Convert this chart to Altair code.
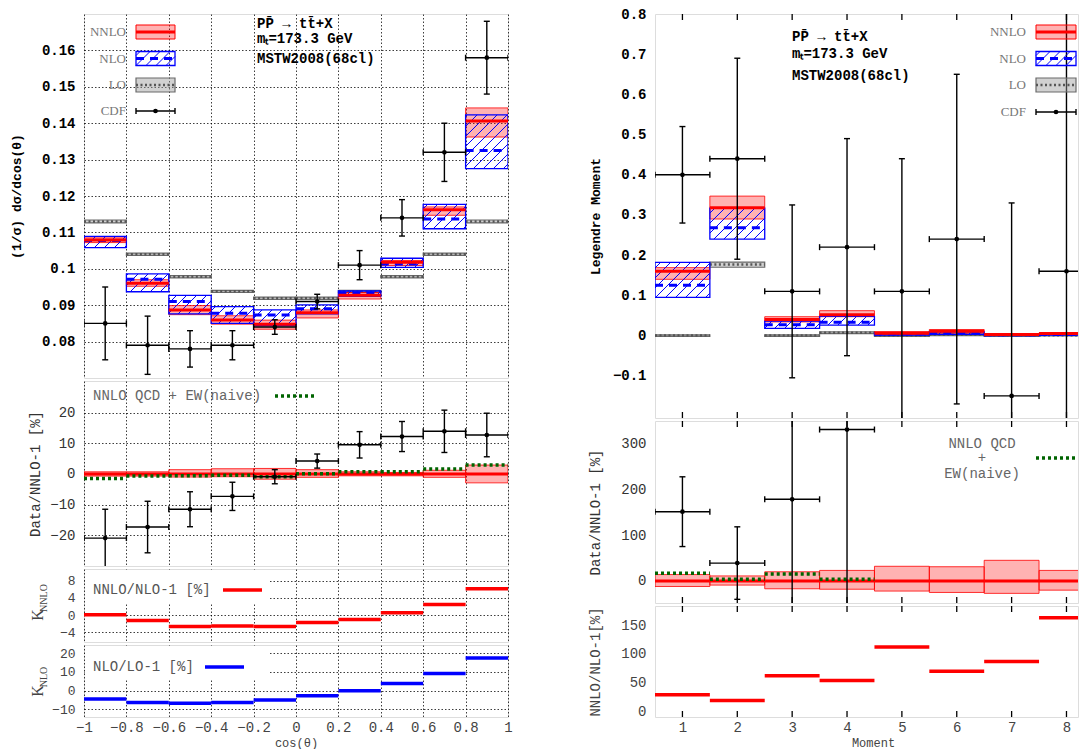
import math
import altair as alt
import pandas as pd

# ---------------- left: cos(theta) distribution ----------------
cos_edges = [-1.0, -0.8, -0.6, -0.4, -0.2, 0.0, 0.2, 0.4, 0.6, 0.8, 1.0]
cdf_val = [0.085, 0.079, 0.078, 0.079, 0.084, 0.091, 0.101, 0.114, 0.132, 0.158]
cdf_err = [0.010, 0.008, 0.005, 0.004, 0.002, 0.002, 0.004, 0.005, 0.008, 0.010]
lo_val = [0.1130, 0.1040, 0.0978, 0.0938, 0.0919, 0.0919, 0.0938, 0.0978, 0.1040, 0.1130]
lo_up = [0.1134, 0.1043, 0.0981, 0.0941, 0.0922, 0.0922, 0.0941, 0.0981, 0.1043, 0.1134]
lo_dn = [0.1126, 0.1037, 0.0975, 0.0935, 0.0916, 0.0916, 0.0935, 0.0975, 0.1037, 0.1126]
nlo_val = [0.1078, 0.0971, 0.0910, 0.0878, 0.0873, 0.0890, 0.0934, 0.1013, 0.1137, 0.1325]
nlo_up = [0.1089, 0.0986, 0.0927, 0.0896, 0.0887, 0.0901, 0.0939, 0.1029, 0.1177, 0.1423]
nlo_dn = [0.1058, 0.0937, 0.0876, 0.0850, 0.0844, 0.0876, 0.0924, 0.1004, 0.1110, 0.1275]
nnlo_val = [0.1079, 0.0960, 0.0887, 0.0859, 0.0848, 0.0879, 0.0927, 0.1018, 0.1162, 0.1406]
nnlo_up = [0.1085, 0.0970, 0.0899, 0.0871, 0.0859, 0.0887, 0.0935, 0.1023, 0.1170, 0.1442]
nnlo_dn = [0.1072, 0.0952, 0.0874, 0.0848, 0.0834, 0.0865, 0.0917, 0.1009, 0.1147, 0.1362]
ratio_val = [-20.9, -17.3, -11.5, -7.3, -0.9, 4.2, 9.5, 12.2, 13.9, 12.7]
ratio_err = [9.4, 8.4, 5.7, 4.6, 2.3, 2.3, 4.3, 4.9, 6.9, 7.1]
ratio_band_up = [0.7, 0.7, 1.4, 1.7, 1.8, 1.4, 0.7, 0.5, 1.2, 2.9]
ratio_band_dn = [0.7, 0.7, 1.0, 0.9, 1.7, 1.1, 0.6, 0.6, 1.1, 2.9]
ew_val = [-1.5, -0.7, -0.6, -0.4, -0.9, 0.1, 0.7, 0.7, 1.6, 2.9]
k_nnlo = [0.1, -1.2, -2.6, -2.5, -2.6, -1.7, -1.0, 0.6, 2.5, 6.1]
k_nlo = [-4.5, -6.4, -6.8, -6.3, -5.0, -2.7, 0.0, 3.8, 9.1, 17.5]

# ---------------- right: Legendre moments ----------------
moments = [1, 2, 3, 4, 5, 6, 7, 8]
mom_cdf = [0.40, 0.44, 0.11, 0.22, 0.11, 0.24, -0.15, 0.16]
mom_cdf_err = [0.12, 0.25, 0.215, 0.27, 0.33, 0.41, 0.48, 0.70]
mom_lo = [0.0, 0.177, 0.0, 0.007, 0.0, 0.002, 0.0, 0.001]
mom_lo_up = [0.002, 0.183, 0.002, 0.009, 0.002, 0.004, 0.002, 0.003]
mom_lo_dn = [-0.002, 0.170, -0.002, 0.005, -0.002, 0.000, -0.002, -0.001]
mom_nlo = [0.125, 0.268, 0.027, 0.033, 0.004, 0.006, 0.002, 0.003]
mom_nlo_up = [0.182, 0.317, 0.036, 0.048, 0.007, 0.009, 0.004, 0.005]
mom_nlo_dn = [0.095, 0.240, 0.018, 0.026, 0.001, 0.003, 0.000, 0.001]
mom_nnlo = [0.160, 0.318, 0.040, 0.052, 0.006, 0.011, 0.003, 0.005]
mom_nnlo_up = [0.169, 0.347, 0.047, 0.062, 0.010, 0.015, 0.005, 0.007]
mom_nnlo_dn = [0.140, 0.290, 0.034, 0.047, 0.003, 0.006, 0.001, 0.003]
mom_ratio = [151, 39, 178, 330]
mom_ratio_err = [76, 79, 540, 520]
mom_band_up = [14, 11, 20, 23, 32, 31, 45, 23]
mom_band_dn = [12, 9, 17, 18, 22, 25, 27, 20]
mom_ew = [17, 4, 15, 4]
mom_k = [29, 19, 62, 53.5, 112, 70, 87, 163]

# ---------------- tables ----------------
L = pd.DataFrame({
    "lo": cos_edges[:-1], "hi": cos_edges[1:],
    "mid": [(a + b) / 2 for a, b in zip(cos_edges[:-1], cos_edges[1:])],
    "cdf": cdf_val,
    "cdf_dn": [v - e for v, e in zip(cdf_val, cdf_err)],
    "cdf_up": [v + e for v, e in zip(cdf_val, cdf_err)],
    "lo_val": lo_val, "lo_up": lo_up, "lo_dn": lo_dn,
    "nlo": nlo_val, "nlo_up": nlo_up, "nlo_dn": nlo_dn,
    "nnlo": nnlo_val, "nnlo_up": nnlo_up, "nnlo_dn": nnlo_dn,
    "r": ratio_val,
    "r_dn": [v - e for v, e in zip(ratio_val, ratio_err)],
    "r_up": [v + e for v, e in zip(ratio_val, ratio_err)],
    "b_up": ratio_band_up, "b_dn": [-v for v in ratio_band_dn],
    "zero": [0.0] * len(ratio_val),
    "ew": ew_val, "knnlo": k_nnlo, "knlo": k_nlo,
})
R = pd.DataFrame({
    "m": moments, "lo": [m - 0.5 for m in moments], "hi": [m + 0.5 for m in moments],
    "cdf": mom_cdf,
    "cdf_dn": [v - e for v, e in zip(mom_cdf, mom_cdf_err)],
    "cdf_up": [v + e for v, e in zip(mom_cdf, mom_cdf_err)],
    "lo_val": mom_lo, "lo_up": mom_lo_up, "lo_dn": mom_lo_dn,
    "nlo": mom_nlo, "nlo_up": mom_nlo_up, "nlo_dn": mom_nlo_dn,
    "nnlo": mom_nnlo, "nnlo_up": mom_nnlo_up, "nnlo_dn": mom_nnlo_dn,
    "b_up": mom_band_up, "b_dn": [-v for v in mom_band_dn],
    "zero": [0.0] * len(moments),
    "k": mom_k,
})
R4 = pd.DataFrame({
    "m": moments[:4], "lo": [m - 0.5 for m in moments[:4]], "hi": [m + 0.5 for m in moments[:4]],
    "r": mom_ratio,
    "r_dn": [v - e for v, e in zip(mom_ratio, mom_ratio_err)],
    "r_up": [v + e for v, e in zip(mom_ratio, mom_ratio_err)],
    "ew": mom_ew,
})
DUMMY = pd.DataFrame({"k": [0]})

FONT = "Liberation Mono"
SERIF = "Liberation Serif"
RED, BLUE, GREEN = "#ff0000", "#0000ff", "#006400"
GRID = dict(grid=True, gridColor="#000000", gridDash=[1.5, 2], gridWidth=0.9, gridOpacity=0.85)
NUMFMT = ".6~g"
HATCH_STEP = 10.0


def hatch_table(df, lo, hi, dn, up, xdom, ydom, w, h, step=HATCH_STEP):
    """45-degree hatch segments inside each band, derived from the band values."""
    sx = w / (xdom[1] - xdom[0])
    sy = h / (ydom[1] - ydom[0])
    rows = []
    for a, b, c, d in zip(df[lo], df[hi], df[dn], df[up]):
        u0, u1 = (a - xdom[0]) * sx, (b - xdom[0]) * sx
        v0, v1 = (c - ydom[0]) * sy, (d - ydom[0]) * sy
        for k in range(math.ceil((u0 - v1) / step), math.floor((u1 - v0) / step) + 1):
            cc = k * step
            us, ue = max(u0, v0 + cc), min(u1, v1 + cc)
            if ue - us > 0.4:
                rows.append({"hx": xdom[0] + us / sx, "hy": ydom[0] + (us - cc) / sy,
                             "hx2": xdom[0] + ue / sx, "hy2": ydom[0] + (ue - cc) / sy})
    return pd.DataFrame(rows)


def yaxis(values, title, tx, h, bold=False, grid=True, lc="#000000", tc="#000000",
          tfont=FONT, tsize=14, lsize=14):
    kw = dict(values=values, ticks=False, domain=False, format=NUMFMT,
              labelFont=FONT, labelFontSize=lsize, labelColor=lc, labelPadding=9,
              labelFontWeight="bold" if bold else "normal", labelOverlap=False, labelFlush=False)
    if title:
        kw.update(title=title, titleFont=tfont, titleFontSize=tsize, titleColor=tc,
                  titleFontWeight="bold" if bold else "normal",
                  titleX=tx, titleY=h / 2, titleAngle=-90, titleAlign="center", titleBaseline="middle")
    else:
        kw.update(title=None)
    if grid:
        kw.update(GRID)
    else:
        kw.update(grid=False)
    return alt.Axis(**kw)


def xaxis(values, grid, labels=False, title=None, tx=0):
    kw = dict(values=values, ticks=False, domain=False, labels=labels, labelOverlap=False,
              labelFlush=False)
    if grid:
        kw.update(GRID)
    else:
        kw.update(grid=False)
    if labels:
        kw.update(format=NUMFMT, labelFont=FONT, labelFontSize=14, labelColor="#444444", labelPadding=3,
                  title=title, titleFont=FONT, titleFontSize=12, titleColor="#444444",
                  titleX=tx, titleY=25, titleBaseline="middle", titleAlign="center",
                  titleFontWeight="normal")
    else:
        kw.update(title=None)
    return alt.Axis(**kw)


class Panel:
    def __init__(self, xs, xa, ys, ya):
        self.xs, self.xa, self.ys, self.ya = xs, xa, ys, ya
        self.layers = []

    def X(self, f):
        return alt.X(f, type="quantitative", scale=self.xs, axis=self.xa)

    def Y(self, f):
        return alt.Y(f, type="quantitative", scale=self.ys, axis=self.ya)

    def rect(self, df, x, x2, y, y2, **m):
        self.layers.append(alt.Chart(df).mark_rect(clip=True, **m).encode(
            x=self.X(x), x2=alt.X2(x2), y=self.Y(y), y2=alt.Y2(y2)))

    def hline(self, df, x, x2, y, **m):
        self.layers.append(alt.Chart(df).mark_rule(clip=True, **m).encode(
            x=self.X(x), x2=alt.X2(x2), y=self.Y(y)))

    def vline(self, df, x, y, y2, **m):
        self.layers.append(alt.Chart(df).mark_rule(clip=True, **m).encode(
            x=self.X(x), y=self.Y(y), y2=alt.Y2(y2)))

    def segs(self, df, **m):
        self.layers.append(alt.Chart(df).mark_rule(clip=True, **m).encode(
            x=self.X("hx"), y=self.Y("hy"), x2=alt.X2("hx2"), y2=alt.Y2("hy2")))

    def cdf(self, df, val="cdf", dn="cdf_dn", up="cdf_up", lo="lo", hi="hi", mid="mid"):
        k = dict(color="black", strokeWidth=1.4)
        self.hline(df, lo, hi, val, **k)
        self.vline(df, lo, val, val, yOffset=-3, y2Offset=3, **k)
        self.vline(df, hi, val, val, yOffset=-3, y2Offset=3, **k)
        self.vline(df, mid, dn, up, **k)
        self.hline(df, mid, mid, up, xOffset=-3, x2Offset=3, **k)
        self.hline(df, mid, mid, dn, xOffset=-3, x2Offset=3, **k)
        self.layers.append(alt.Chart(df).mark_circle(size=22, color="black", opacity=1, clip=True).encode(
            x=self.X(mid), y=self.Y(val)))

    def theory(self, df, hatch, lo="lo", hi="hi"):
        self.rect(df, lo, hi, "lo_dn", "lo_up", fill="#9a9a9a", fillOpacity=0.45, stroke="#6a6a6a", strokeWidth=1.2)
        self.hline(df, lo, hi, "lo_val", color="#555555", strokeWidth=2.5, strokeDash=[2, 2.5])
        self.rect(df, lo, hi, "nnlo_dn", "nnlo_up", fill=RED, fillOpacity=0.3, stroke=RED, strokeWidth=1, strokeOpacity=0.8)
        self.segs(hatch, color=BLUE, strokeWidth=1)
        self.rect(df, lo, hi, "nlo_dn", "nlo_up", fill=BLUE, fillOpacity=0.0, stroke=BLUE, strokeWidth=1.3)
        self.hline(df, lo, hi, "nlo", color=BLUE, strokeWidth=3, strokeDash=[8, 6])
        self.hline(df, lo, hi, "nnlo", color=RED, strokeWidth=3)

    def ptext(self, s, x, y, **m):
        self.layers.append(alt.Chart(DUMMY).mark_text(text=s, **m).encode(x=alt.value(x), y=alt.value(y)))

    def prect(self, x, x2, y, y2, **m):
        self.layers.append(alt.Chart(DUMMY).mark_rect(**m).encode(
            x=alt.value(x), x2=alt.value(x2), y=alt.value(y), y2=alt.value(y2)))

    def prule(self, x, x2, y, y2, **m):
        self.layers.append(alt.Chart(DUMMY).mark_rule(**m).encode(
            x=alt.value(x), x2=alt.value(x2), y=alt.value(y), y2=alt.value(y2)))

    def ppoint(self, x, y, **m):
        self.layers.append(alt.Chart(DUMMY).mark_circle(**m).encode(x=alt.value(x), y=alt.value(y)))

    def phatch(self, x0, x1, ytop, ybot, step=HATCH_STEP, **m):
        h = ybot - ytop
        for k in range(math.ceil(-h / step), math.floor((x1 - x0) / step) + 1):
            cc = k * step
            us, ue = max(0, cc), min(x1 - x0, h + cc)
            if ue - us > 0.4:
                self.prule(x0 + us, x0 + ue, ybot - (us - cc), ybot - (ue - cc), **m)

    def ktitle(self, sub, yk, ysub):
        k = dict(font=SERIF, color="#444444", angle=270, align="center", baseline="middle")
        self.ptext("K", -46, yk, fontSize=16, **k)
        self.ptext(sub, -40, ysub, fontSize=10, **k)

    def legend_block(self, xl, xb0, xb1, rows):
        lab = dict(font=SERIF, fontSize=13, color="#777777", align="right", baseline="middle")
        y1, y2, y3, y4 = rows
        self.ptext("NNLO", xl, y1, **lab)
        self.ptext("NLO", xl, y2, **lab)
        self.ptext("LO", xl, y3, **lab)
        self.ptext("CDF", xl, y4, **lab)
        self.prect(xb0, xb1, y1 - 7, y1 + 7, fill=RED, fillOpacity=0.3, stroke=RED, strokeWidth=1)
        self.prule(xb0, xb1, y1, y1, color=RED, strokeWidth=3)
        self.phatch(xb0, xb1, y2 - 7, y2 + 7, color=BLUE, strokeWidth=1)
        self.prect(xb0, xb1, y2 - 7, y2 + 7, fillOpacity=0, stroke=BLUE, strokeWidth=1.3)
        self.prule(xb0, xb1, y2, y2, color=BLUE, strokeWidth=3, strokeDash=[8, 6])
        self.prect(xb0, xb1, y3 - 7, y3 + 7, fill="#9a9a9a", fillOpacity=0.45, stroke="#6a6a6a", strokeWidth=1.2)
        self.prule(xb0, xb1, y3, y3, color="#555555", strokeWidth=2.5, strokeDash=[2, 2.5])
        self.prule(xb0, xb1, y4, y4, color="black", strokeWidth=1.4)
        self.prule(xb0, xb0, y4 - 3, y4 + 3, color="black", strokeWidth=1.4)
        self.prule(xb1, xb1, y4 - 3, y4 + 3, color="black", strokeWidth=1.4)
        self.ppoint((xb0 + xb1) / 2, y4, size=22, color="black", opacity=1)

    def info(self, x, ys):
        k = dict(font=FONT, fontSize=14, fontWeight="bold", color="black", align="left", baseline="middle")
        self.ptext("PP\u0304 \u2192 tt\u0304+X", x, ys[0], **k)
        self.ptext("m\u209c=173.3 GeV", x, ys[1], **k)
        self.ptext("MSTW2008(68cl)", x, ys[2], **k)

    def build(self, w, h):
        return alt.layer(*self.layers).properties(width=w, height=h)


# ---------------- left column ----------------
WL = 424
H1, H2, H3, H4 = 364, 185, 73, 72
XL_DOM = [-1, 1]
Y1_DOM = [0.07, 0.17]
xsL = alt.Scale(domain=XL_DOM, nice=False, zero=False)

p1 = Panel(xsL, xaxis(cos_edges, True),
           alt.Scale(domain=Y1_DOM, nice=False, zero=False),
           yaxis([0.08, 0.09, 0.10, 0.11, 0.12, 0.13, 0.14, 0.15, 0.16],
                 "(1/\u03c3) d\u03c3/dcos(\u03b8)", -68, H1, bold=True, tsize=13))
p1.theory(L, hatch_table(L, "lo", "hi", "nlo_dn", "nlo_up", XL_DOM, Y1_DOM, WL, H1))
p1.cdf(L)
p1.legend_block(42, 52, 91, (18, 44.5, 71, 97))
p1.info(173, (10, 25, 45))

p2 = Panel(xsL, xaxis(cos_edges, True),
           alt.Scale(domain=[-30, 30.3], nice=False, zero=False),
           yaxis([-20, -10, 0, 10, 20], "Data/NNLO-1 [%]", -49, H2, lc="#333333", tc="#333333"))
p2.rect(L, "lo", "hi", "b_dn", "b_up", fill=RED, fillOpacity=0.3, stroke=RED, strokeWidth=1, strokeOpacity=0.8)
p2.hline(L, "lo", "hi", "zero", color=RED, strokeWidth=3)
p2.hline(L, "lo", "hi", "ew", color=GREEN, strokeWidth=3.5, strokeDash=[3, 3])
p2.cdf(L, val="r", dn="r_dn", up="r_up")
p2.ptext("NNLO QCD + EW(naive)", 9, 15, font=FONT, fontSize=14, color="#666666", align="left", baseline="middle")
p2.prule(191, 230, 15, 15, color=GREEN, strokeWidth=3.5, strokeDash=[3, 3])

p3 = Panel(xsL, xaxis(cos_edges, True),
           alt.Scale(domain=[-6.2, 10.7], nice=False, zero=False),
           yaxis([-4, 0, 4, 8], None, 0, H3, lc="#444444", lsize=13))
p3.hline(L, "lo", "hi", "knnlo", color=RED, strokeWidth=3.5)
p3.prect(1, 186, 1, 34, fill="white")
p3.ptext("NNLO/NLO-1 [%]", 9, 21, font=FONT, fontSize=14, color="#555555", align="left", baseline="middle")
p3.prule(139, 178, 21, 21, color=RED, strokeWidth=3.5)
p3.ktitle("NNLO", 46, 29)

p4 = Panel(xsL, xaxis(cos_edges, True, labels=True, title="cos(\u03b8)", tx=WL / 2),
           alt.Scale(domain=[-14.1, 24.4], nice=False, zero=False),
           yaxis([-10, 0, 10, 20], None, 0, H4, lc="#444444", lsize=13))
p4.hline(L, "lo", "hi", "knlo", color=BLUE, strokeWidth=3.5)
p4.prect(1, 186, 1, 34, fill="white")
p4.ptext("NLO/LO-1 [%]", 9, 22, font=FONT, fontSize=14, color="#555555", align="left", baseline="middle")
p4.prule(121, 160, 22, 22, color=BLUE, strokeWidth=3.5)
p4.ktitle("NLO", 46, 32)

left = alt.vconcat(p1.build(WL, H1), p2.build(WL, H2), p3.build(WL, H3), p4.build(WL, H4),
                   spacing=3, bounds="flush")

# ---------------- right column ----------------
WR = 423
G1, G2, G3 = 404, 182, 111
XR_DOM = [0.5, 8.21]
YR1_DOM = [-0.205, 0.8]
xsR = alt.Scale(domain=XR_DOM, nice=False, zero=False)


def inner_ticks(panel, h):
    k = dict(color="black", strokeWidth=1.3)
    panel.layers.append(alt.Chart(R).mark_rule(clip=True, **k).encode(
        x=panel.X("m"), y=alt.value(0), y2=alt.value(6)))
    panel.layers.append(alt.Chart(R).mark_rule(clip=True, **k).encode(
        x=panel.X("m"), y=alt.value(h - 6), y2=alt.value(h)))


r1 = Panel(xsR, xaxis(moments, False),
           alt.Scale(domain=YR1_DOM, nice=False, zero=False),
           yaxis([-0.1, 0, 0.1, 0.2, 0.3, 0.4, 0.5, 0.6, 0.7, 0.8], "Legendre Moment", -60, G1,
                 bold=True, grid=False, tsize=13))
r1.theory(R, hatch_table(R, "lo", "hi", "nlo_dn", "nlo_up", XR_DOM, YR1_DOM, WR, G1))
r1.cdf(R, mid="m")
inner_ticks(r1, G1)
r1.legend_block(371, 381, 421, (18, 44.5, 71, 98))
r1.info(137, (23, 40, 62))

r2 = Panel(xsR, xaxis(moments, False),
           alt.Scale(domain=[-48, 348.6], nice=False, zero=False),
           yaxis([0, 100, 200, 300], "Data/NNLO-1 [%]", -60, G2, grid=False, lc="#333333", tc="#333333"))
r2.rect(R, "lo", "hi", "b_dn", "b_up", fill=RED, fillOpacity=0.3, stroke=RED, strokeWidth=1, strokeOpacity=0.8)
r2.hline(R, "lo", "hi", "zero", color=RED, strokeWidth=3)
r2.hline(R4, "lo", "hi", "ew", color=GREEN, strokeWidth=3.5, strokeDash=[3, 3])
r2.cdf(R4, val="r", dn="r_dn", up="r_up", mid="m")
inner_ticks(r2, G2)
lk = dict(font=FONT, fontSize=14, color="#666666", align="center", baseline="middle")
r2.ptext("NNLO QCD", 327, 23, **lk)
r2.ptext("+", 327, 37, **lk)
r2.ptext("EW(naive)", 327, 53, **lk)
r2.prule(381, 421, 37, 37, color=GREEN, strokeWidth=3.5, strokeDash=[3, 3])

r3 = Panel(xsR, xaxis(moments, False, labels=True, title="Moment", tx=218),
           alt.Scale(domain=[-10, 183.7], nice=False, zero=False),
           yaxis([0, 50, 100, 150], "NNLO/NLO-1[%]", -60, G3, grid=False, lc="#444444", tc="#444444"))
r3.hline(R, "lo", "hi", "k", color=RED, strokeWidth=3.5)
inner_ticks(r3, G3)

right = alt.vconcat(r1.build(WR, G1), r2.build(WR, G2), r3.build(WR, G3), spacing=3, bounds="flush")

chart = alt.hconcat(left, right, spacing=74).properties(
    padding={"left": 1, "top": -2, "right": 0, "bottom": 0}
).configure_view(stroke="black", strokeWidth=1.5).configure(background="white")

chart.save("out.html", embed_options={"renderer": "svg", "actions": False})
